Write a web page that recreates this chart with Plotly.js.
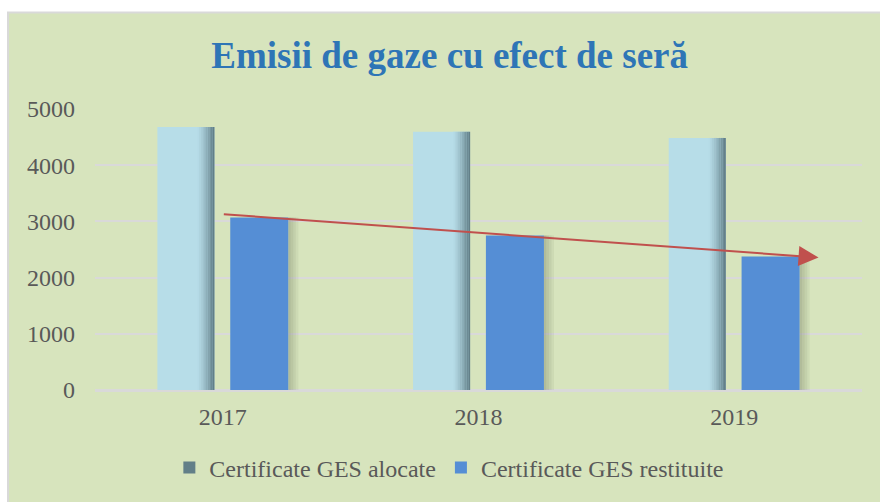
<!DOCTYPE html>
<html>
<head>
<meta charset="utf-8">
<script src="https://cdn.plot.ly/plotly-3.0.1.min.js"></script>
<style>html,body{margin:0;padding:0;background:#fff;}#chart{width:880px;height:502px;}</style>
</head>
<body>
<div id="chart"></div>
<script>
const years = ['2017', '2018', '2019'];
const alocate = [4680, 4595, 4485];
const restituite = [3070, 2750, 2375];
const trendStart = 3130;
const trendEnd = 2357;
const seriesNames = ['Certificate GES alocate', 'Certificate GES restituite'];
const titleText = 'Emisii de gaze cu efect de seră';

const font = 'Liberation Serif, Times New Roman, serif';
const textColor = '#595959';

function bar(y, color, offset, width, name, showlegend) {
  return {
    type: 'bar', x: years, y: y, offset: offset, width: width,
    marker: {color: color, line: {width: 0}},
    name: name, showlegend: showlegend, hoverinfo: 'skip'
  };
}

const data = [bar(alocate, '#b7dde8', -0.256, 0.223, seriesNames[0], false)];
// shading strips on the right side of the "alocate" bars (imitates gradient)
const light = [183, 221, 232], dark = [92, 120, 129];
const nStrips = 10, gStart = -0.1, gEnd = -0.033;
const sw = (gEnd - gStart) / nStrips;
for (let i = 0; i < nStrips; i++) {
  const t = Math.pow((i + 0.5) / nStrips, 1.3);
  const c = light.map((v, k) => Math.round(v + (dark[k] - v) * t));
  data.push(bar(alocate, 'rgb(' + c.join(',') + ')', gStart + i * sw, sw * 1.05,
    seriesNames[0], i === nStrips - 1));
}
// soft shadow right of the "restituite" bars
const shadowAlpha = [0.32, 0.24, 0.16, 0.08];
shadowAlpha.forEach((a, i) => {
  data.push(bar(restituite, 'rgba(95,105,80,' + a + ')', 0.256 + i * 0.0098, 0.0098,
    seriesNames[1], false));
});
data.push(bar(restituite, '#558ed5', 0.029, 0.227, seriesNames[1], true));

const layout = {
  width: 880, height: 502,
  margin: {l: 95, r: 18, t: 109, b: 112},
  paper_bgcolor: '#ffffff',
  plot_bgcolor: 'rgba(0,0,0,0)',
  barmode: 'overlay',
  title: {
    text: '<b>' + titleText + '</b>',
    font: {family: font, size: 37, color: '#2e75b6'},
    x: 0.511, xref: 'container', xanchor: 'center',
    y: 0.89, yref: 'container', yanchor: 'middle'
  },
  shapes: [{
    type: 'rect', xref: 'paper', yref: 'paper', layer: 'below',
    x0: -0.1134, x1: 1.03, y0: -0.41, y1: 1.343,
    fillcolor: '#d7e4bd', line: {color: '#d9d9d9', width: 2}
  }],
  xaxis: {
    type: 'category', range: [-0.5, 2.5], fixedrange: true,
    showgrid: false, showline: false, zeroline: false, ticks: '',
    tickfont: {family: font, size: 24, color: textColor},
    ticklabelstandoff: 10
  },
  yaxis: {
    range: [0, 5000], dtick: 1000, fixedrange: true,
    showgrid: true, gridcolor: '#d9d9d9', gridwidth: 2,
    zeroline: true, zerolinecolor: '#d9d9d9', zerolinewidth: 3,
    showline: false, ticks: '',
    tickfont: {family: font, size: 24, color: textColor},
    ticklabelstandoff: 19
  },
  legend: {
    orientation: 'h', x: 0.462, xanchor: 'center',
    y: 0.068, yref: 'container', yanchor: 'middle',
    font: {family: font, size: 24, color: textColor},
    bgcolor: 'rgba(0,0,0,0)', traceorder: 'normal'
  },
  annotations: [{
    xref: 'x', yref: 'y', axref: 'x', ayref: 'y',
    x: 2.33, y: trendEnd, ax: -0.002, ay: trendStart,
    text: '', showarrow: true,
    arrowhead: 2, arrowsize: 2, arrowwidth: 2, arrowcolor: '#c0504d'
  }],
  showlegend: true
};

Plotly.newPlot('chart', data, layout, {displayModeBar: false, staticPlot: true});
</script>
</body>
</html>
